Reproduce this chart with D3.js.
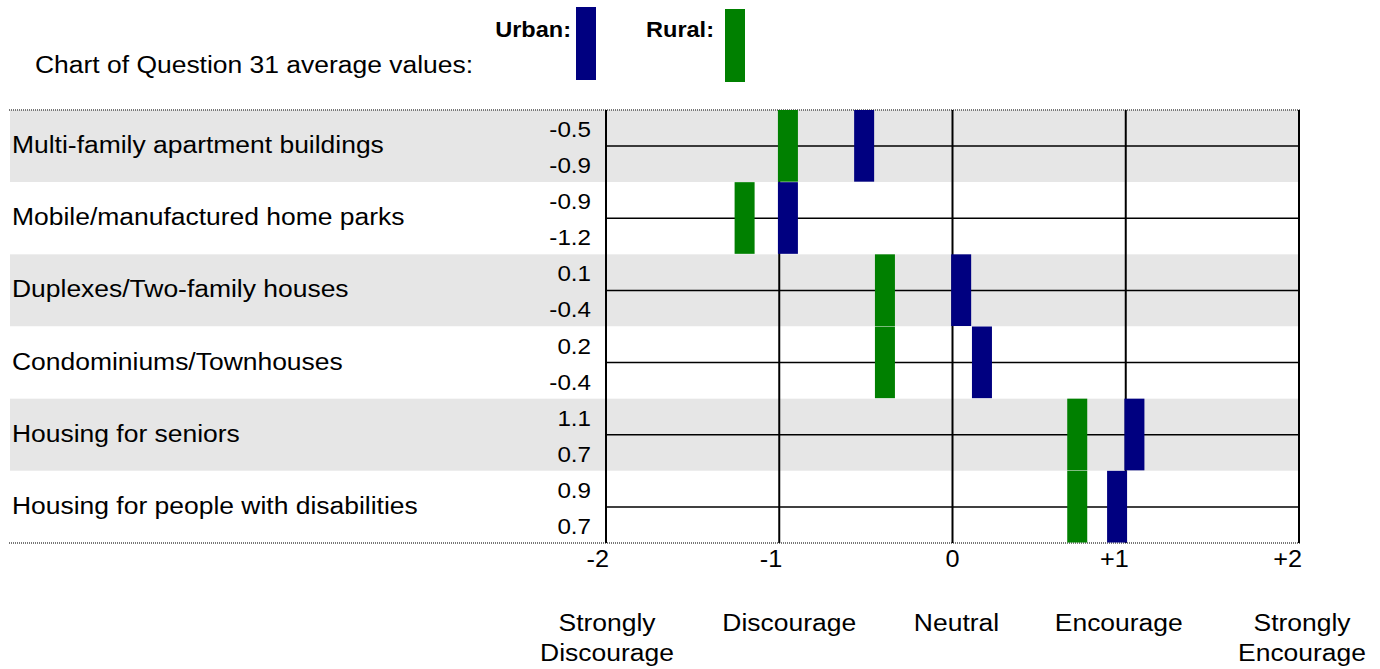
<!DOCTYPE html>
<html>
<head>
<meta charset="utf-8">
<script src="https://cdn.jsdelivr.net/npm/d3@7"></script>
<style>
  html, body { margin: 0; padding: 0; background: #fff; }
  svg { display: block; }
  text { font-family: "Liberation Sans", Arial, sans-serif; fill: #000; }
</style>
</head>
<body>
<svg id="chart" width="1380" height="669"></svg>
<script>
// ---- data ----
const categories = [
  "Multi-family apartment buildings",
  "Mobile/manufactured home parks",
  "Duplexes/Two-family houses",
  "Condominiums/Townhouses",
  "Housing for seniors",
  "Housing for people with disabilities"
];
const urbanValues = [-0.51, -0.95, 0.05, 0.17, 1.05, 0.95];
const ruralValues = [-0.95, -1.2, -0.39, -0.39, 0.72, 0.72];
const urbanLabels = ["-0.5", "-0.9", "0.1", "0.2", "1.1", "0.9"];
const ruralLabels = ["-0.9", "-1.2", "-0.4", "-0.4", "0.7", "0.7"];
const tickValues = [-2, -1, 0, 1, 2];
const tickLabels = ["-2", "-1", "0", "+1", "+2"];
const scaleLabels = [["Strongly", "Discourage"], ["Discourage"], ["Neutral"], ["Encourage"], ["Strongly", "Encourage"]];
const seriesNames = ["Urban:", "Rural:"];
const title = "Chart of Question 31 average values:";

// ---- layout ----
const svg = d3.select("#chart");
const URBAN = "#000080", RURAL = "#008000", GRAY = "#e6e6e6";
const SX = 1.08; // horizontal text stretch
const x = d3.scaleLinear().domain([-2, 2]).range([606, 1299]);
const y = d3.scaleBand().domain(categories).range([110, 543]);
const bw = y.bandwidth();
const barW = 20;

function txt(g, xp, yp, s, opts) {
  opts = opts || {};
  return g.append("text")
    .attr("transform", `translate(${xp},${yp}) scale(${SX},1)`)
    .attr("text-anchor", opts.anchor || "start")
    .style("font-size", (opts.size || 24.5) + "px")
    .style("font-weight", opts.bold ? "bold" : "normal")
    .text(s);
}

// title and legend
txt(svg, 35, 73, title, {size: 24.5});
const legendX = [571, 714];
const boxX = [576, 725];
const boxY = [7, 9];
[URBAN, RURAL].forEach((c, i) => {
  txt(svg, legendX[i], 37, seriesNames[i], {anchor: "end", bold: true, size: 21.8});
  svg.append("rect").attr("x", boxX[i]).attr("y", boxY[i])
    .attr("width", barW).attr("height", 73).attr("fill", c);
});

// row backgrounds
svg.selectAll("rect.row").data(categories).enter().append("rect")
  .attr("class", "row")
  .attr("x", 10).attr("width", x(2) + 1 - 10)
  .attr("y", d => y(d)).attr("height", bw)
  .attr("fill", (d, i) => i % 2 === 0 ? GRAY : "#fff");

// top / bottom dotted borders
[y.range()[0], y.range()[1]].forEach(yy => {
  svg.append("line").attr("x1", 9).attr("x2", x(2) + 1)
    .attr("y1", yy).attr("y2", yy)
    .attr("stroke", "#777").attr("stroke-width", 2)
    .attr("stroke-dasharray", "1,1");
});

// mid-row lines
svg.selectAll("line.mid").data(categories).enter().append("line")
  .attr("x1", x(-2)).attr("x2", x(2) + 1)
  .attr("y1", d => y(d) + bw / 2).attr("y2", d => y(d) + bw / 2)
  .attr("stroke", "#000").attr("stroke-width", 1.5);

// vertical grid lines
svg.selectAll("line.grid").data(tickValues).enter().append("line")
  .attr("x1", d => x(d)).attr("x2", d => x(d))
  .attr("y1", y.range()[0]).attr("y2", y.range()[1])
  .attr("stroke", "#000").attr("stroke-width", 2);

// bars
svg.selectAll("rect.rural").data(categories).enter().append("rect")
  .attr("x", (d, i) => x(ruralValues[i]) - barW / 2).attr("width", barW)
  .attr("y", d => y(d)).attr("height", bw - 0.5)
  .attr("fill", RURAL);
svg.selectAll("rect.urban").data(categories).enter().append("rect")
  .attr("x", (d, i) => x(urbanValues[i]) - barW / 2).attr("width", barW)
  .attr("y", d => y(d)).attr("height", bw - 0.5)
  .attr("fill", URBAN);

// category labels and value labels
categories.forEach((c, i) => {
  txt(svg, 12, y(c) + bw / 2 + 7, c, {size: 24.5});
  txt(svg, 591, y(c) + 27, urbanLabels[i], {anchor: "end", size: 22.4});
  txt(svg, 591, y(c) + 63, ruralLabels[i], {anchor: "end", size: 22.4});
});

// tick labels
tickValues.forEach((t, i) => {
  if (t === 0) txt(svg, x(t), 567, tickLabels[i], {anchor: "middle", size: 23.4});
  else txt(svg, x(t) + 3, 567, tickLabels[i], {anchor: "end", size: 23.4});
});

// scale descriptions
const nudge = [1, 10, 4, -7, 3];
scaleLabels.forEach((lines, i) => {
  lines.forEach((l, j) => {
    txt(svg, x(tickValues[i]) + nudge[i], 631 + j * 30, l, {anchor: "middle", size: 24.5});
  });
});
</script>
</body>
</html>
